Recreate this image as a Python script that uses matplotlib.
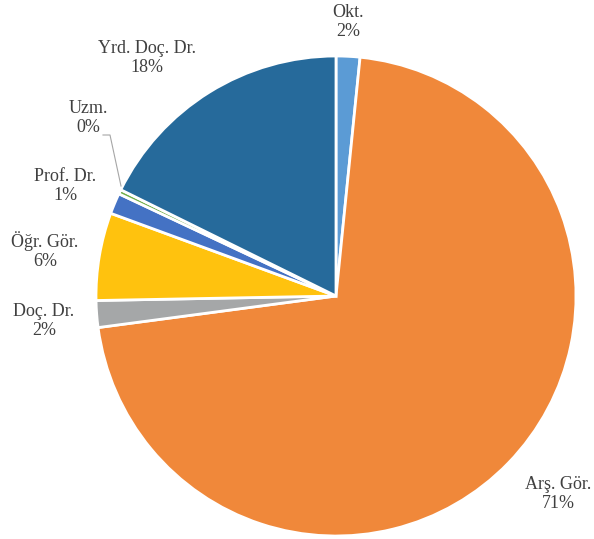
import matplotlib
matplotlib.use("Agg")
import matplotlib.pyplot as plt

categories = ["Okt.", "Arş. Gör.", "Doç. Dr.", "Öğr. Gör.", "Prof. Dr.", "Uzm.", "Yrd. Doç. Dr."]
values = [1.6, 71.3, 1.8, 5.9, 1.4, 0.3, 17.7]
pct_labels = ["2%", "71%", "2%", "6%", "1%", "0%", "18%"]
colors = ["#5B9BD5", "#F0883A", "#A5A7A8", "#FFC20E", "#4472C4", "#70AD47", "#266A9B"]

# label centers in pixel coords (layout)
label_px = [(348, 22), (558, 494), (44, 321), (45, 251), (65, 186), (88, 118), (147, 58)]

W, H = 594, 539
cx, cy, R = 336, 296, 240
fig = plt.figure(figsize=(W / 100, H / 100), dpi=100)
ax = fig.add_axes([0, 0, 1, 1])

ax.pie(values, colors=colors, startangle=90, counterclock=False, radius=1,
       wedgeprops=dict(edgecolor="white", linewidth=2))
ax.set_xlim(-cx / R, (W - cx) / R)
ax.set_ylim(-(H - cy) / R, cy / R)
ax.axis("off")

def px2d(x, y):
    return (x - cx) / R, (cy - y) / R

for (x, y), c, p in zip(label_px, categories, pct_labels):
    dx, dy = px2d(x, y)
    ax.text(dx, dy, f"{c}\n{p}", ha="center", va="center", fontsize=13,
            family="Liberation Serif", color="#404040", linespacing=1.15)

# leader line for Uzm.
pts = [px2d(103, 135), px2d(110, 135), px2d(121, 186)]
ax.plot([p[0] for p in pts], [p[1] for p in pts], color="#A6A6A6", lw=0.8)

fig.savefig("out.png", dpi=100)
